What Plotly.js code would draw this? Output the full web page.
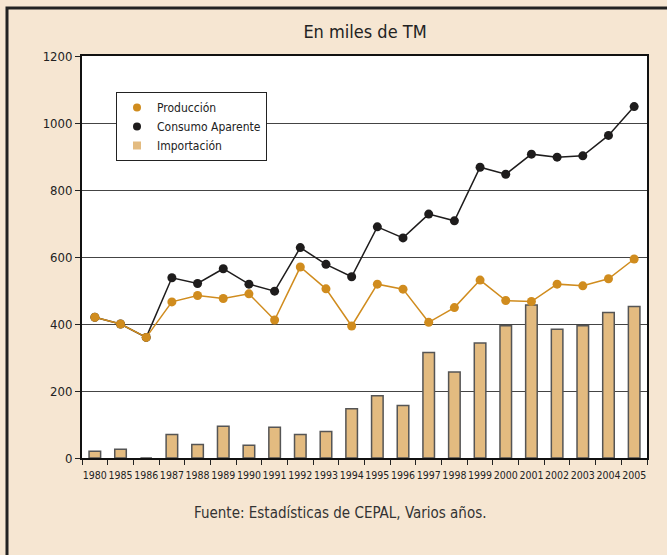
<!DOCTYPE html>
<html>
<head>
<meta charset="utf-8">
<script src="https://cdn.plot.ly/plotly-3.0.1.min.js"></script>
<style>html,body{margin:0;padding:0;background:#f6e6d2;}</style>
</head>
<body>
<div id="chart" style="width:667px;height:555px;"></div>
<script>
const years = ["1980","1985","1986","1987","1988","1989","1990","1991","1992","1993","1994","1995","1996","1997","1998","1999","2000","2001","2002","2003","2004","2005"];
const produccion = [420,400,360,466,485,476,490,412,570,505,394,519,504,405,449,531,470,467,519,514,535,594];
const consumo = [420,400,360,538,521,565,519,498,628,578,541,690,657,728,708,868,847,907,898,902,963,1049];
const importacion = [20,26,0,70,40,95,38,92,70,79,147,186,157,315,257,343,395,457,384,395,434,452];

const FONT = "'DejaVu Sans Condensed', 'Liberation Sans Narrow', sans-serif";
const ORANGE = "#d08c1e";
const BLACK = "#1e1c1c";
const TAN = "#e3bb80";

const traces = [
  {type:"bar", x:years, y:importacion, name:"Importación", showlegend:false,
   width:0.45, marker:{color:TAN, line:{color:"#555", width:1.5}}},
  {type:"scatter", mode:"lines+markers", x:years, y:consumo, name:"Consumo Aparente", showlegend:false,
   line:{color:BLACK, width:1.5}, marker:{color:BLACK, size:9}},
  {type:"scatter", mode:"lines+markers", x:years, y:produccion, name:"Producción", showlegend:false,
   line:{color:ORANGE, width:1.5}, marker:{color:ORANGE, size:9}},
  // legend entries
  {type:"scatter", mode:"markers", x:[years[0]], y:[null], name:"Producción", marker:{color:ORANGE, size:8, symbol:"circle"}},
  {type:"scatter", mode:"markers", x:[years[0]], y:[null], name:"Consumo Aparente", marker:{color:BLACK, size:8, symbol:"circle"}},
  {type:"scatter", mode:"markers", x:[years[0]], y:[null], name:"Importación", marker:{color:TAN, size:8, symbol:"square"}}
];

const L = 82, R = 647, T = 56, B = 458;
const px = v => (v - L) / (R - L);
const py = v => (B - v) / (B - T);

const layout = {
  width:667, height:555,
  margin:{l:L, r:667-R, t:T, b:555-B},
  paper_bgcolor:"#f6e6d2",
  plot_bgcolor:"#ffffff",
  font:{family:FONT, color:"#222", size:13},
  title:{text:"En miles de TM", x:px(365), xref:"paper", y:1-(32/555), yanchor:"middle",
         font:{family:FONT, size:18, color:"#222"}},
  showlegend:true,
  legend:{x:px(116), y:py(92), xanchor:"left", yanchor:"top", bgcolor:"#ffffff",
          bordercolor:"#222", borderwidth:1, font:{family:FONT, size:12, color:"#222"},
          tracegroupgap:0, itemwidth:30},
  xaxis:{type:"category", categoryorder:"array", categoryarray:years, range:[-0.5, years.length-0.5],
         tickangle:0, ticks:"outside", tickson:"boundaries", ticklen:5, ticklabelstandoff:6,
         tickcolor:"#222", showline:true, linecolor:"#111", linewidth:2, mirror:true,
         tickfont:{family:FONT, size:10.5, color:"#222"}, showgrid:false},
  yaxis:{range:[0,1200], dtick:200, ticks:"outside", ticklen:5, tickcolor:"#222",
         showline:true, linecolor:"#111", linewidth:2, mirror:true,
         showgrid:true, gridcolor:"#444", gridwidth:1, zeroline:false,
         tickfont:{family:FONT, size:13, color:"#222"}},
  annotations:[
    {text:"Fuente: Estadísticas de CEPAL, Varios años.", xref:"paper", yref:"paper",
     x:px(340), y:py(524), showarrow:false, font:{family:FONT, size:15, color:"#333"}}
  ],
  shapes:[
    {type:"rect", xref:"paper", yref:"paper", x0:px(7), x1:px(700), y0:py(600), y1:py(8),
     line:{color:"#222", width:3}, fillcolor:"rgba(0,0,0,0)", layer:"below"}
  ]
};

Plotly.newPlot("chart", traces, layout, {displayModeBar:false, staticPlot:true});
</script>
</body>
</html>
